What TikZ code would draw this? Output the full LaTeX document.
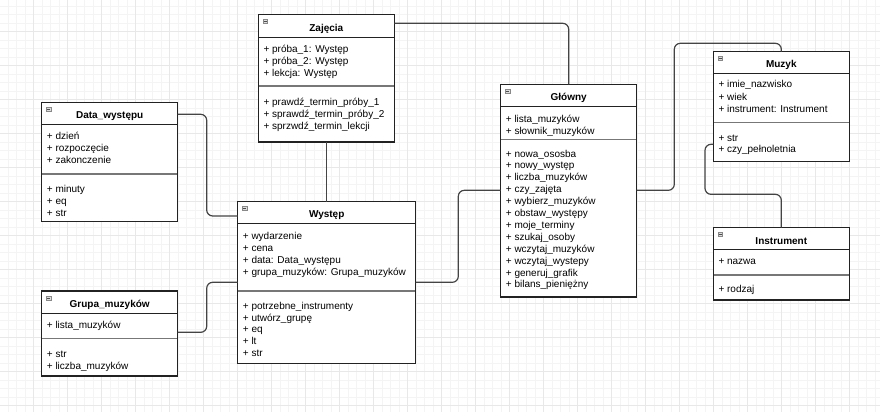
\documentclass[tikz,border=0pt]{standalone}
\usepackage{fontspec}
\setmainfont{Liberation Sans}
\usetikzlibrary{calc}
\definecolor{gridminor}{HTML}{F4F4F4}
\definecolor{gridmajor}{HTML}{E8E8E8}
\definecolor{boxline}{HTML}{222222}
\definecolor{connline}{HTML}{444444}
\definecolor{sepgray}{HTML}{777777}
\definecolor{iconfill}{HTML}{DDDDDD}
\definecolor{icongray}{HTML}{888888}
\tikzset{
 classbox/.style={draw=boxline, line width=1.2pt, fill=white, rectangle, inner sep=0pt, outer sep=0pt, anchor=north west},
 hdrline/.style={draw=boxline, line width=1pt},
 sepline/.style={draw=sepgray, line width=1.6pt},
 row/.style={anchor=base west, inner sep=0pt, font=\fontsize{10}{12}\selectfont, yshift=-1.5pt},
 ctitle/.style={anchor=base, inner sep=0pt, font=\fontsize{10}{12}\selectfont\bfseries},
 conn/.style={draw=connline, line width=1.2pt, rounded corners=6pt},
 gminor/.style={draw=gridminor, line width=0.8pt},
 gmajor/.style={draw=gridmajor, line width=1pt},
 iconbox/.style={fill=iconfill, draw=icongray, line width=0.5pt},
 iconminus/.style={draw=black!70, line width=0.7pt},
}
\newcommand\umlclass[8]{%
 \node[classbox, minimum width={(#4)-(#2)}, minimum height={(#7)-(#3)}] (#1) at (#2,#3) {};
 \draw[hdrline] (#2,#5) -- (#4,#5);
 \draw[sepline] (#2+0.6,#6) -- (#4-0.6,#6);
 \node[ctitle] (#1-title) at ({(#2+#4)/2},#5-5.7) {#8};
 \draw[iconbox] (#2+4.6,#3+4.8) rectangle (#2+9.2,#3+9);
 \draw[iconminus] (#2+5.4,#3+6.9) -- (#2+8.4,#3+6.9);
}
\newcommand\rw[4]{\node[row] (#1) at (#2,#3) {#4};}
\begin{document}
\begin{tikzpicture}[x=1pt,y=-1pt]
\useasboundingbox (0,0) rectangle (880,412);
\fill[white] (0,0) rectangle (880,412);
\foreach \gx in {-0.5,8,...,880} \draw[gminor] (\gx,0) -- (\gx,412);
\foreach \gy in {-2.3,6.2,...,412} \draw[gminor] (0,\gy) -- (880,\gy);
\foreach \gx in {-0.5,33.5,...,880} \draw[gmajor] (\gx,0) -- (\gx,412);
\foreach \gy in {-2.3,31.7,...,412} \draw[gmajor] (0,\gy) -- (880,\gy);

% class boxes
\umlclass{zaj}{258.3}{14.7}{394.3}{37.7}{86}{142}{Zajęcia}
\rw{zaj-a1}{263.3}{51}{+ próba\_1: Występ}
\rw{zaj-a2}{263.3}{63}{+ próba\_2: Występ}
\rw{zaj-a3}{263.3}{75}{+ lekcja: Występ}
\rw{zaj-m1}{263.3}{103.7}{+ prawdź\_termin\_próby\_1}
\rw{zaj-m2}{263.3}{115.7}{+ sprawdź\_termin\_próby\_2}
\rw{zaj-m3}{263.3}{127.7}{+ sprzwdź\_termin\_lekcji}

\umlclass{data}{41.7}{102.3}{177.7}{124}{173.7}{221.3}{Data\_występu}
\rw{data-a1}{46.7}{137.7}{+ dzień}
\rw{data-a2}{46.7}{149.7}{+ rozpoczęcie}
\rw{data-a3}{46.7}{161.7}{+ zakonczenie}
\rw{data-m1}{46.7}{191}{+ minuty}
\rw{data-m2}{46.7}{203}{+ eq}
\rw{data-m3}{46.7}{215}{+ str}

\umlclass{wys}{237.7}{201.7}{415.7}{223.3}{291}{363.3}{Występ}
\rw{wys-a1}{242.7}{237.7}{+ wydarzenie}
\rw{wys-a2}{242.7}{249.7}{+ cena}
\rw{wys-a3}{242.7}{262}{+ data: Data\_występu}
\rw{wys-a4}{242.7}{274}{+ grupa\_muzyków: Grupa\_muzyków}
\rw{wys-m1}{242.7}{308}{+ potrzebne\_instrumenty}
\rw{wys-m2}{242.7}{319.7}{+ utwórz\_grupę}
\rw{wys-m3}{242.7}{331}{+ eq}
\rw{wys-m4}{242.7}{342.7}{+ lt}
\rw{wys-m5}{242.7}{354.7}{+ str}

\umlclass{grp}{41.7}{291}{177.7}{313.3}{338.3}{376}{Grupa\_muzyków}
\rw{grp-a1}{46.7}{326.7}{+ lista\_muzyków}
\rw{grp-m1}{46.7}{356}{+ str}
\rw{grp-m2}{46.7}{368}{+ liczba\_muzyków}

\umlclass{glo}{500.7}{84.3}{636.7}{106.3}{139.3}{297}{Główny}
\rw{glo-a1}{505.7}{121.3}{+ lista\_muzyków}
\rw{glo-a2}{505.7}{132.7}{+ słownik\_muzyków}
\rw{glo-m1}{505.7}{155.5}{+ nowa\_ososba}
\rw{glo-m2}{505.7}{167.4}{+ nowy\_występ}
\rw{glo-m3}{505.7}{179.3}{+ liczba\_muzyków}
\rw{glo-m4}{505.7}{191.2}{+ czy\_zajęta}
\rw{glo-m5}{505.7}{203.1}{+ wybierz\_muzyków}
\rw{glo-m6}{505.7}{215}{+ obstaw\_występy}
\rw{glo-m7}{505.7}{226.9}{+ moje\_terminy}
\rw{glo-m8}{505.7}{238.8}{+ szukaj\_osoby}
\rw{glo-m9}{505.7}{250.7}{+ wczytaj\_muzyków}
\rw{glo-m10}{505.7}{262.6}{+ wczytaj\_wystepy}
\rw{glo-m11}{505.7}{274.5}{+ generuj\_grafik}
\rw{glo-m12}{505.7}{286.4}{+ bilans\_pieniężny}

\umlclass{muz}{713.3}{51.7}{849.3}{73.3}{122.3}{161.7}{Muzyk}
\rw{muz-a1}{718.3}{86.3}{+ imie\_nazwisko}
\rw{muz-a2}{718.3}{98.7}{+ wiek}
\rw{muz-a3}{718.3}{110.7}{+ instrument: Instrument}
\rw{muz-m1}{718.3}{139.7}{+ str}
\rw{muz-m2}{718.3}{151.3}{+ czy\_pełnoletnia}

\umlclass{ins}{713.3}{227.7}{849.3}{249.7}{274.7}{300}{Instrument}
\rw{ins-a1}{718.3}{262.7}{+ nazwa}
\rw{ins-m1}{718.3}{290.7}{+ rodzaj}

% connectors
\draw[conn] ($(zaj.north east)+(0,8.6)$) -| (glo.north);
\draw[conn] (zaj.south) -- (zaj.south |- wys.north);
\draw[conn] ($(data.north east)+(0,12)$) -- ++(29,0) |- ($(wys.north west)+(0,14.3)$);
\draw[conn] ($(grp.north east)+(0,41.3)$) -- ++(29,0) |- ($(wys.north west)+(0,80.6)$);
\draw[conn] ($(wys.north east)+(0,80.6)$) -- ++(42.6,0) |- ($(glo.north west)+(0,106)$);
\draw[conn] ($(glo.north east)+(0,106)$) -- ++(37.6,0) |- ($(muz.north)+(0,-8.4)$) -- (muz.north);
\draw[conn] ($(muz.north west)+(0,92.6)$) -- ++(-8.3,0) |- ($(ins.north)+(0,-33.4)$) -- (ins.north);
\end{tikzpicture}
\end{document}
